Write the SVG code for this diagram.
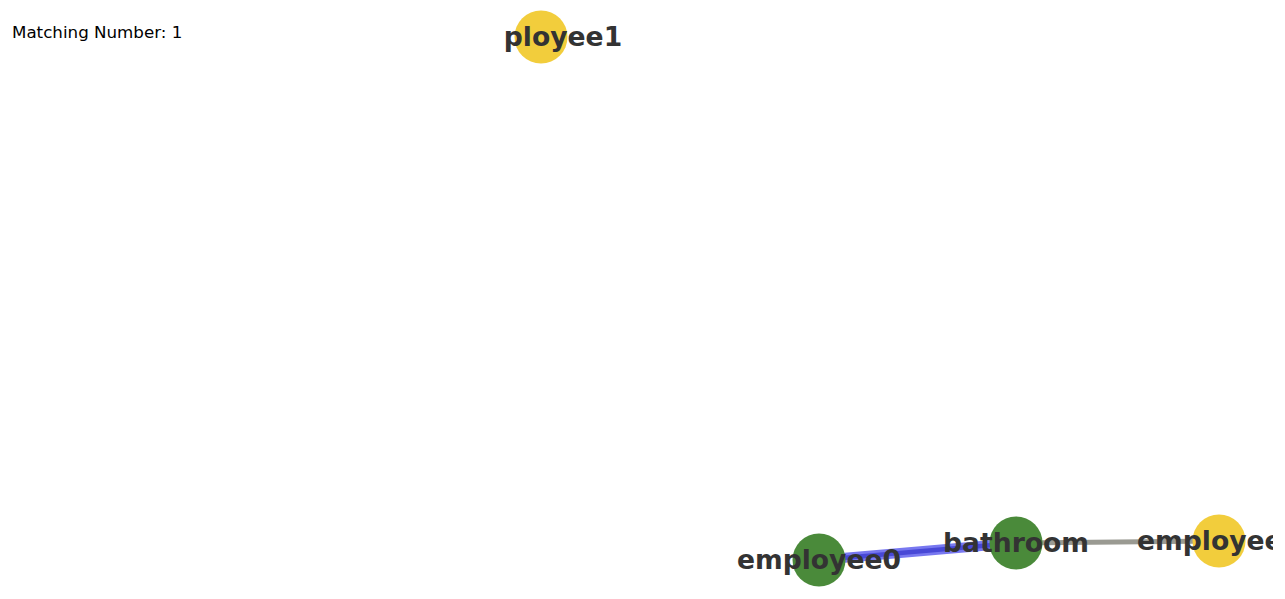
<svg xmlns="http://www.w3.org/2000/svg" width="1285" height="599" viewBox="0 0 1285 599">
<defs>
<style>
.lbl{font-family:"DejaVu Sans",sans-serif;font-weight:bold;font-size:26.6px;fill:#333333;text-anchor:middle}
.g{fill:#4a8a3a}
.y{fill:#f2cd3c}
</style>
<clipPath id="clipR"><rect x="0" y="0" width="1273" height="599"/></clipPath>
</defs>
<rect width="1285" height="599" fill="#ffffff"/>
<text x="12" y="38" font-family="DejaVu Sans,sans-serif" font-size="16.7" fill="#000000">Matching Number: 1</text>
<g id="connectors">
<line x1="819" y1="560" x2="1016" y2="543" stroke="#7878f0" stroke-width="10"/>
<line x1="819" y1="560" x2="1016" y2="543" stroke="#4848d6" stroke-width="4.5"/>
<line x1="1016" y1="543" x2="1219" y2="541" stroke="#9a9a92" stroke-width="5"/>
</g>
<g id="employee1">
<circle class="y" cx="541" cy="37" r="26.5"/>
<text class="lbl" x="563" y="46">ployee1</text>
</g>
<g id="employee0">
<circle class="g" cx="819" cy="560" r="26.5"/>
<text class="lbl" x="819" y="569">employee0</text>
</g>
<g id="bathroom">
<circle class="g" cx="1016" cy="543" r="26.5"/>
<text class="lbl" x="1016" y="552">bathroom</text>
</g>
<g id="employee2">
<circle class="y" cx="1219" cy="541" r="26.5"/>
<text class="lbl" x="1137" y="550" style="text-anchor:start" clip-path="url(#clipR)">employee</text>
</g>
</svg>
